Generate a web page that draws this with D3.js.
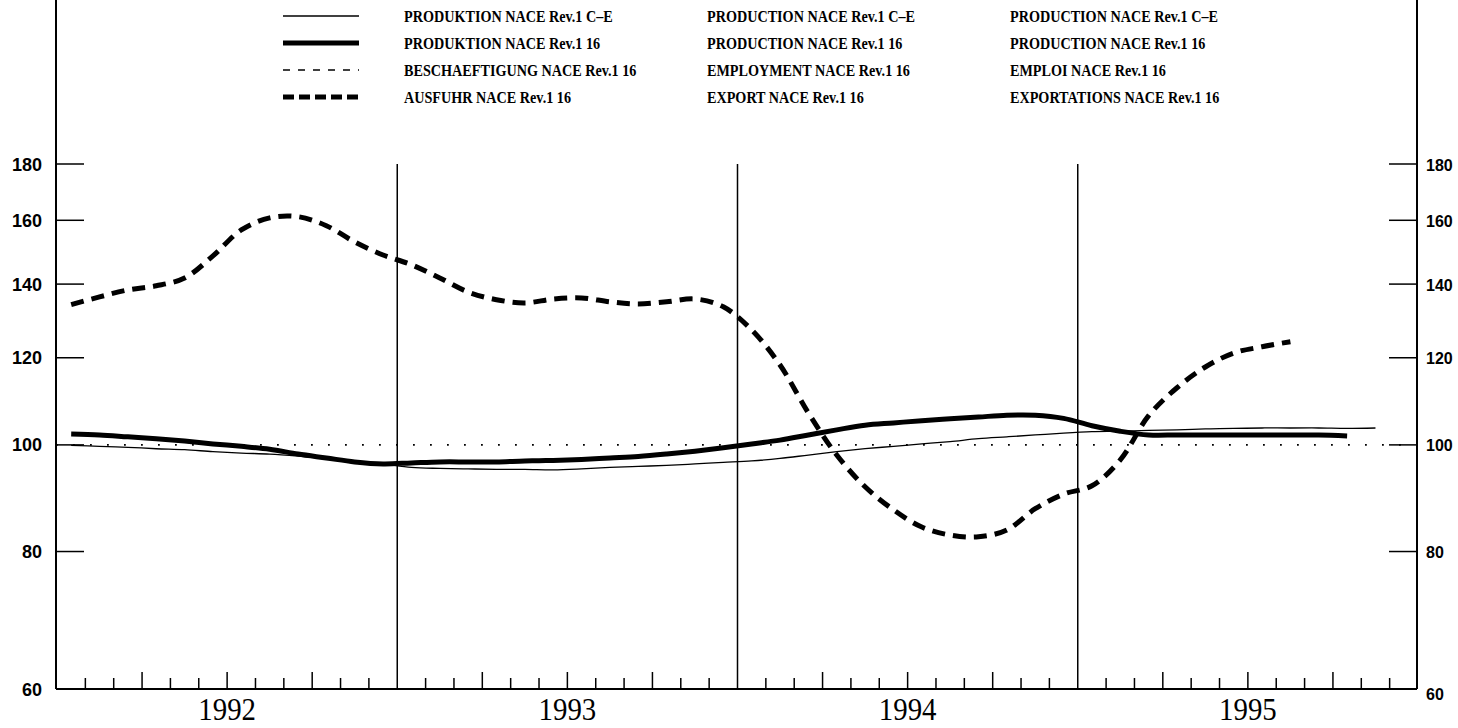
<!DOCTYPE html>
<html><head><meta charset="utf-8">
<script src="https://cdn.jsdelivr.net/npm/d3@7"></script>
<style>html,body{margin:0;padding:0;background:#fff;}svg{display:block;}</style>
</head><body>
<svg id="chart" width="1458" height="728"></svg>
<script>
// ---- data ----
const years = ["1992", "1993", "1994", "1995"];
const yTicks = [60, 80, 100, 120, 140, 160, 180];
// monthly indices, Jan 1992 = index 0
const prodCE = [99.9,99.7,99.5,99.2,99.0,98.6,98.3,98.1,97.7,97.2,96.7,96.1,
  95.4,95.2,95.1,95.0,95.0,94.9,95.1,95.4,95.6,95.8,96.1,96.4,
  96.7,97.2,97.9,98.6,99.2,99.7,100.2,100.7,101.3,101.7,102.1,102.5,
  102.8,102.9,103.1,103.2,103.4,103.5,103.6,103.6,103.6,103.5,103.6];
const prod16 = [102.3,102.1,101.7,101.3,100.8,100.2,99.7,99.1,98.1,97.3,96.5,96.1,
  96.3,96.5,96.5,96.5,96.7,96.8,97.0,97.3,97.6,98.1,98.7,99.4,
  100.2,101.0,102.1,103.2,104.2,104.7,105.2,105.6,106.0,106.4,106.4,105.7,
  104.1,102.9,102.1,102.1,102.1,102.1,102.1,102.1,102.1,101.9];
const employ16 = [];
const export16 = [134.1,136.3,138.3,139.5,141.8,148.5,156.8,160.8,161.2,158.2,152.9,148.8,
  145.8,141.8,137.7,135.5,134.6,135.7,136.0,134.9,134.3,134.9,135.7,133.5,
  127.2,118.2,106.9,97.9,91.6,87.3,84.2,82.8,82.5,83.7,87.5,90.2,
  91.8,96.9,106.3,112.7,117.7,121.2,122.8,124.1];
const legendDE = ["PRODUKTION NACE Rev.1 C\u2013E","PRODUKTION NACE Rev.1 16","BESCHAEFTIGUNG NACE Rev.1 16","AUSFUHR NACE Rev.1 16"];
const legendEN = ["PRODUCTION NACE Rev.1 C\u2013E","PRODUCTION NACE Rev.1 16","EMPLOYMENT NACE Rev.1 16","EXPORT NACE Rev.1 16"];
const legendFR = ["PRODUCTION NACE Rev.1 C\u2013E","PRODUCTION NACE Rev.1 16","EMPLOI NACE Rev.1 16","EXPORTATIONS NACE Rev.1 16"];

// ---- styles ----
const styles = [
  {w:1.3, dash:null},
  {w:5, dash:null},
  {w:1.3, dash:"7,8"},
  {w:5, dash:"13,8"}
];
const seriesList = [prodCE, prod16, employ16, export16];

const svg = d3.select("#chart");
const L = 56, R = 1417, B = 689, T = 164;
const nMonths = years.length * 12;
const x = d3.scaleLinear().domain([0, nMonths]).range([L + 1, R + 1]);
const y = d3.scaleLog().domain([60, 180]).range([B, T]);

// dotted reference at 100
svg.append("line").attr("x1", L).attr("x2", R).attr("y1", y(100)).attr("y2", y(100))
  .attr("stroke", "#000").attr("stroke-width", 1.8).attr("stroke-dasharray", "1.8,15.2");

// year divider lines
for (let i = 1; i < years.length; i++) {
  svg.append("line").attr("x1", x(i*12)).attr("x2", x(i*12)).attr("y1", T).attr("y2", B)
    .attr("stroke", "#000").attr("stroke-width", 1.5);
}
// month ticks
const mt = d3.range(1, nMonths).filter(m => m % 12 !== 0);
svg.selectAll(".mt").data(mt).enter().append("line")
  .attr("x1", d => x(d)).attr("x2", d => x(d))
  .attr("y1", B).attr("y2", d => B - (d % 3 === 0 ? 17 : 11))
  .attr("stroke", "#000").attr("stroke-width", 1.5);

// y ticks both sides
const yt = yTicks.filter(v => v !== 60);
svg.selectAll(".ytl").data(yt).enter().append("line")
  .attr("x1", L).attr("x2", L + 28).attr("y1", d => y(d)).attr("y2", d => y(d))
  .attr("stroke", "#000").attr("stroke-width", 1.5);
svg.selectAll(".ytr").data(yt).enter().append("line")
  .attr("x1", R - 28).attr("x2", R).attr("y1", d => y(d)).attr("y2", d => y(d))
  .attr("stroke", "#000").attr("stroke-width", 1.5);

// axes frame
svg.append("line").attr("x1", L).attr("x2", L).attr("y1", 0).attr("y2", B).attr("stroke", "#000").attr("stroke-width", 2);
svg.append("line").attr("x1", R).attr("x2", R).attr("y1", 0).attr("y2", B).attr("stroke", "#000").attr("stroke-width", 2);
svg.append("line").attr("x1", L).attr("x2", R).attr("y1", B).attr("y2", B).attr("stroke", "#000").attr("stroke-width", 2);

// y labels
svg.selectAll(".yl").data(yTicks).enter().append("text")
  .attr("x", 42).attr("y", d => y(d) + 6.5).attr("text-anchor", "end")
  .attr("font-family", "Liberation Sans, Arial, sans-serif").attr("font-size", 18)
  .attr("font-weight", "bold")
  .text(d => d);
svg.selectAll(".yr").data(yTicks).enter().append("text")
  .attr("x", 1426).attr("y", d => y(d) + 6.5 + (d === 60 ? 4 : 0)).attr("text-anchor", "start")
  .attr("font-family", "Liberation Sans, Arial, sans-serif").attr("font-size", 16)
  .attr("font-weight", "bold")
  .text(d => d);

// year labels
years.forEach((yr, i) => {
  svg.append("text")
    .attr("transform", `translate(${x(i*12 + 6)},720) scale(0.9,1)`)
    .attr("text-anchor", "middle")
    .attr("font-family", "Liberation Serif, Times New Roman, serif").attr("font-size", 32)
    .text(yr);
});

// series
const line = d3.line().x((d, i) => x(i + 0.5)).y(d => y(d)).curve(d3.curveCatmullRom.alpha(0.5));
seriesList.forEach((s, k) => {
  if (!s.length) return;
  const p = svg.append("path").datum(s).attr("d", line)
    .attr("fill", "none").attr("stroke", "#000").attr("stroke-width", styles[k].w)
    .attr("stroke-linejoin", "round");
  if (styles[k].dash) p.attr("stroke-dasharray", styles[k].dash);
});

// legend
const rowsY = [16, 43, 70, 97];
const cols = [[404, legendDE], [707, legendEN], [1010, legendFR]];
rowsY.forEach((ry, k) => {
  const l = svg.append("line").attr("x1", 283).attr("x2", 359).attr("y1", ry).attr("y2", ry)
    .attr("stroke", "#000").attr("stroke-width", styles[k].w);
  if (styles[k].dash) l.attr("stroke-dasharray", k === 3 ? "11,5" : "7,8");
  cols.forEach(([cx, labels]) => {
    svg.append("text")
      .attr("transform", `translate(${cx},${ry + 5.5}) scale(0.86,1)`)
      .attr("font-family", "Liberation Serif, Times New Roman, serif").attr("font-size", 16.5)
      .attr("font-weight", "bold")
      .text(labels[k]);
  });
});
</script>
</body></html>
